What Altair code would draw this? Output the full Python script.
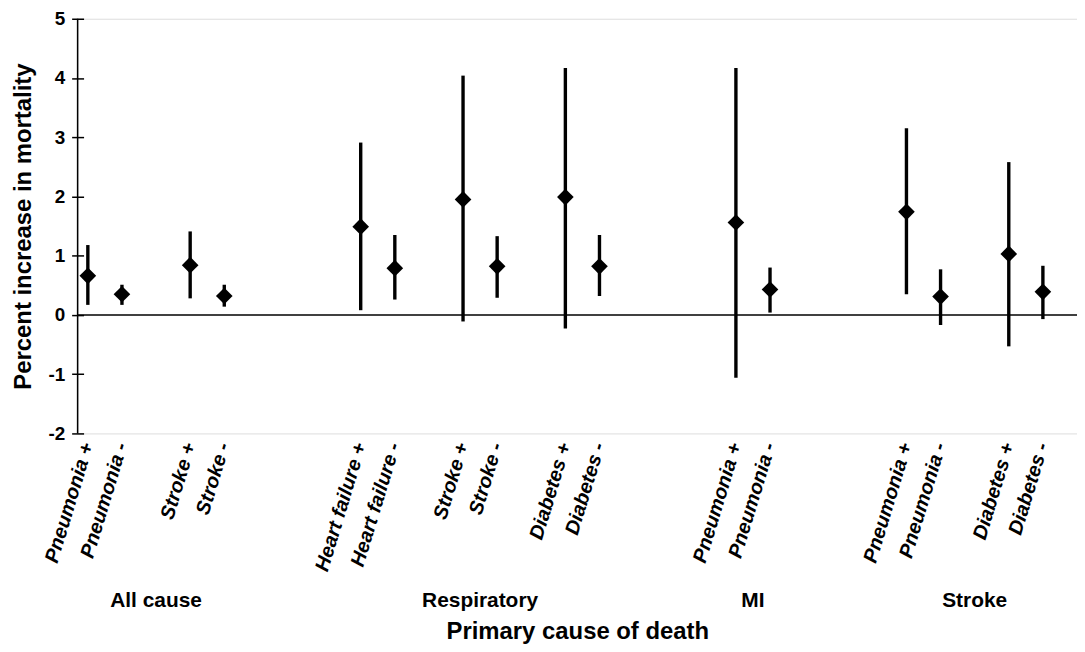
import altair as alt
import pandas as pd

groups = ["All cause"] * 4 + ["Respiratory"] * 6 + ["MI"] * 2 + ["Stroke"] * 4
labels = ["Pneumonia +", "Pneumonia -", "Stroke +", "Stroke -",
          "Heart failure +", "Heart failure -", "Stroke +", "Stroke -",
          "Diabetes +", "Diabetes -",
          "Pneumonia +", "Pneumonia -",
          "Pneumonia +", "Pneumonia -", "Diabetes +", "Diabetes -"]
slots = [0, 1, 3, 4, 8, 9, 11, 12, 14, 15, 19, 20, 24, 25, 27, 28]
estimate = [0.66, 0.35, 0.84, 0.32, 1.49, 0.79, 1.95, 0.82, 1.99, 0.82,
            1.56, 0.43, 1.74, 0.31, 1.03, 0.39]
lower = [0.17, 0.17, 0.28, 0.14, 0.08, 0.26, -0.11, 0.29, -0.23, 0.32,
         -1.06, 0.04, 0.35, -0.17, -0.53, -0.07]
upper = [1.18, 0.51, 1.41, 0.51, 2.91, 1.35, 4.04, 1.33, 4.17, 1.35,
         4.17, 0.80, 3.15, 0.77, 2.58, 0.83]
y_ticks = [-2, -1, 0, 1, 2, 3, 4, 5]
x_domain = [-0.3, 29]

df = pd.DataFrame({"group": groups, "label": labels, "slot": slots,
                   "est": estimate, "lo": lower, "hi": upper})

FONT = "Liberation Sans"

xscale = alt.Scale(domain=x_domain, nice=False, zero=False)
yscale = alt.Scale(domain=[-2, 5], nice=False)

base = alt.Chart(df)

bars = base.mark_rule(color="black", strokeWidth=3.4).encode(
    x=alt.X("slot:Q", scale=xscale,
            axis=alt.Axis(title="Primary cause of death", labels=False, ticks=False,
                          domain=False, grid=False, titleFont=FONT, titleFontSize=24,
                          titleFontWeight="bold", titleColor="black", titlePadding=187)),
    y=alt.Y("lo:Q", scale=yscale,
            axis=alt.Axis(title="Percent increase in mortality", values=y_ticks,
                          labelExpr="'' + datum.value", grid=False, domain=False,
                          offset=-6, tickColor="black",
                          tickWidth=1.5, tickSize=12, labelPadding=7,
                          labelFont=FONT, labelFontSize=19, labelFontWeight="bold",
                          labelColor="black", titleFont=FONT, titleFontSize=24,
                          titleFontWeight="bold", titleColor="black",
                          titleX=-60, titleBaseline="middle", titleAlign="center")),
    y2="hi:Q",
)

zero = alt.Chart(pd.DataFrame({"z": [0]})).mark_rule(color="black", strokeWidth=1.5).encode(
    y=alt.Y("z:Q", scale=yscale)
)

y_axis_line = alt.Chart(pd.DataFrame({"x0": [x_domain[0]]})).mark_rule(
    color="black", strokeWidth=1.5).encode(
    x=alt.X("x0:Q", scale=xscale)
)

points = base.mark_point(shape="diamond", filled=True, color="black", size=280, opacity=1).encode(
    x=alt.X("slot:Q", scale=xscale),
    y=alt.Y("est:Q", scale=yscale),
)

cat_labels = base.mark_text(font=FONT, fontSize=20, fontWeight="bold", fontStyle="italic",
                            angle=287, align="right", baseline="middle", color="black").encode(
    x=alt.X("slot:Q", scale=xscale),
    y=alt.value(427),
    text="label:N",
)

group_labels = base.mark_text(font=FONT, fontSize=21, fontWeight="bold", align="center",
                              baseline="middle", color="black").encode(
    x=alt.X("mean(slot):Q", scale=xscale),
    y=alt.value(586),
    text="group:N",
)

chart = alt.layer(zero, y_axis_line, bars, points, cat_labels, group_labels).properties(
    width=1005, height=417,
    autosize=alt.AutoSizeParams(type="none"),
    padding={"left": 70, "top": 9, "right": 0, "bottom": 220},
).configure_view(stroke=None).configure(background="white")

chart.save("out.html", embed_options={"renderer": "svg", "actions": False})
